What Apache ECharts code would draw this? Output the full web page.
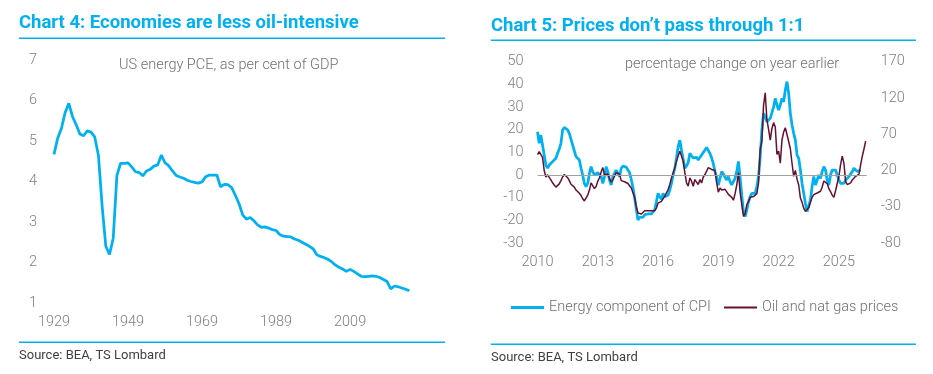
<!DOCTYPE html>
<html><head><meta charset="utf-8">
<script src="https://cdn.jsdelivr.net/npm/echarts@6/dist/echarts.min.js"></script>
<style>html,body{margin:0;padding:0;background:#fff}#c{width:933px;height:374px}</style>
</head><body><div id="c"></div>
<script>
// ---- Chart 4: US energy PCE, % of GDP (annual) ----
const pceStartYear = 1929;
const pceValues = [4.67,5.07,5.31,5.70,5.93,5.60,5.40,5.17,5.13,5.25,5.22,5.10,4.65,3.40,2.40,2.20,2.60,4.15,4.45,4.45,
4.46,4.36,4.24,4.22,4.14,4.26,4.30,4.38,4.41,4.65,4.46,4.39,4.26,4.15,4.11,4.08,4.03,4.00,3.98,3.96,
3.99,4.12,4.16,4.16,4.16,3.87,3.93,3.92,3.85,3.66,3.45,3.17,3.07,3.11,3.03,2.93,2.87,2.88,2.85,2.81,
2.79,2.69,2.65,2.64,2.63,2.58,2.55,2.50,2.45,2.40,2.34,2.19,2.15,2.12,2.08,2.02,1.94,1.88,1.84,1.78,
1.83,1.78,1.72,1.66,1.65,1.66,1.67,1.66,1.63,1.58,1.53,1.35,1.42,1.40,1.37,1.34,1.30];
const pceYTicks = [1,2,3,4,5,6,7];

// ---- Chart 5: monthly % y/y from Jan 2010 ----
const monthlyStart = 2010;
const energyCPI = [19.1,14,17.6,16.9,8.8,4.4,3,4.4,3.7,5.9,
6.5,7.4,9.6,11.5,14,19.9,21,20.5,19.9,18.4,
17.6,13.2,12.5,8.1,7.4,6.6,3,0,-3.7,-5.1,
-3.7,0.7,3.7,1.5,0,0.5,1,1.5,-0.7,-3.7,
-0.7,3.7,1.5,-2.2,-4.4,-0.7,0.7,2.2,0.7,-0.7,
3,4,3.8,3.5,2.2,1,-2,-5.5,-10,-15,
-19.9,-18.7,-19.1,-18.6,-17.5,-16.9,-17.2,-17.4,-17.2,-16.5,
-15.4,-11.8,-8.1,-9.6,-10.7,-8.1,-9.6,-10.3,-8.8,-6.6,
-3.7,0,3,7.5,12.5,15.4,11,7,3,4,
5.5,9.6,8.5,7.5,7.5,7.8,6.6,7.8,8.8,9,
11,12.2,11.8,9.5,7.5,5,1.5,-1,-4.5,-1.5,
1.5,0.5,-1,-2.2,-0.7,-2.9,-4.4,-3.7,-1.5,1.5,
6,-1,-9,-16,-18.4,-15.4,-11.8,-9.6,-8.1,-8.8,
-8.1,-5.1,-0.7,8,19.9,27.2,25.7,23.5,24.3,25,
25.7,30.1,33.8,30.9,28.7,30.9,33.8,32.3,37.5,41.2,
36,27.2,22.1,18.4,15.4,8.8,7.4,2.2,-3.7,-8.1,
-12.5,-16.2,-15.4,-11,-5.1,-0.7,-4.4,-2.2,0,-1.5,
1.5,3.7,2.2,-2.2,-4.4,0,2.2,3,2.2,1.5,
-2.2,-3.7,-2.9,-3.7,-2.2,-1.5,-0.7,0,1.5,3,
3.7,1.5,0.7,2.2];
const oilGas = [42,46,45,38,20,11,14,12,7,3,
0,-3,-2,1.5,6,11,14.5,13.5,10,6,
1,-0.5,-3,-7,-9,-11.5,-14.5,-19,-22,-20.5,
-14,-7,3,1,-5,-2,5,10,18,24,
14,16,15,9,4,7,12,17,19,15,
6,4.5,4.5,5,2,0.6,-4.1,-6.3,-17,-30,
-38.7,-40.9,-40.1,-38.7,-35.4,-34,-35.4,-34,-35.4,-36.4,
-35.4,-31.8,-24.9,-27.1,-22.5,-20.2,-15.6,-11,-6.3,0.6,
9.8,16.7,23.6,32.9,39.8,46.7,44.4,32.9,16.7,3,
-1.7,9.8,5.2,-1.7,7.5,5.2,0.6,7.5,2.8,11,
14.5,19,24,26,21.4,23.6,20,3,-10,-4.1,
-7,-5,-6,-8,-13,-15.6,-17,-21,-12,0,
17,-10,-27,-43.3,-40,-27,-23,-17,-17,-16,
-17,-12,3,50,60,110,127,90,76.8,62,
78,86,80,42,46.7,30,62,73,79,77,
60,50,30,12,20,8,0,-18,-24,-32,
-36.4,-38,-31,-24,-17,-13.2,-15,-11,-13,-8.7,
-3,5.5,7,2,-5,-9,-14,-17,-8,2,
12,28,39.8,30,5,0.6,1,3,7,6,
12,10,15,28,40,50,60.6];
const leftTicks = [-30,-20,-10,0,10,20,30,40,50];
const rightTicks = [-80,-30,20,70,120,170];
const seriesNames = ['Energy component of CPI','Oil and nat gas prices'];

const BLUE = '#00B0F0', MAROON = '#651030', GREY = '#7f7f7f';
const FONT = 'Roboto, "Noto Sans", sans-serif';
const plain = v => String(v);
const lab = {color: GREY, fontSize: 14.5, fontFamily: FONT, fontWeight: 300, formatter: plain};

const pceData = pceValues.map((v,i)=>[pceStartYear+i, v]);
const cpiData = energyCPI.map((v,i)=>[monthlyStart+i/12, v]);
const oilData = oilGas.map((v,i)=>[monthlyStart+i/12, v]);

const chart = echarts.init(document.getElementById('c'), null, {renderer:'canvas'});
const noLine = {axisLine:{show:false}, axisTick:{show:false}, splitLine:{show:false}};
const legTxt = {color:'#707070', fontSize:14.5, fontFamily:FONT, fontWeight:300};
chart.setOption({
  animation:false,
  backgroundColor:'#fff',
  grid:[
    {left:54, top:60, width:355.3, height:243},
    {left:537.5, top:61.7, width:329.2, height:181.3}
  ],
  xAxis:[
    Object.assign({type:'value', gridIndex:0, min:1929, max:2025, interval:20,
      axisLabel:Object.assign({margin:12, showMaxLabel:false}, lab)}, noLine),
    Object.assign({type:'value', gridIndex:1, min:2010, max:2010+196.6/12, interval:3,
      axisLabel:Object.assign({margin:12, showMaxLabel:false}, lab)}, noLine)
  ],
  yAxis:[
    Object.assign({type:'value', gridIndex:0, min:pceYTicks[0], max:pceYTicks[pceYTicks.length-1], interval:1,
      axisLabel:Object.assign({margin:17}, lab)}, noLine),
    Object.assign({type:'value', gridIndex:1, min:leftTicks[0], max:leftTicks[leftTicks.length-1], interval:10,
      axisLabel:Object.assign({margin:14}, lab)}, noLine),
    Object.assign({type:'value', gridIndex:1, position:'right', min:rightTicks[0], max:rightTicks[rightTicks.length-1], interval:50,
      axisLabel:Object.assign({margin:14}, lab)}, noLine)
  ],
  legend:[
    {data:[seriesNames[0]], left:511, top:300, padding:0, icon:'rect', itemWidth:33, itemHeight:3,
      itemStyle:{color:BLUE}, textStyle:legTxt},
    {data:[seriesNames[1]], left:724, top:300, padding:0, icon:'rect', itemWidth:33, itemHeight:2,
      itemStyle:{color:MAROON}, textStyle:legTxt}
  ],
  series:[
    {type:'line', name:'pce', xAxisIndex:0, yAxisIndex:0, data:pceData, symbol:'none',
      lineStyle:{color:BLUE, width:2.75}, itemStyle:{color:BLUE}},
    {type:'line', name:seriesNames[0], xAxisIndex:1, yAxisIndex:1, data:cpiData, symbol:'none',
      lineStyle:{color:BLUE, width:2.75}, itemStyle:{color:BLUE},
      markLine:{silent:true, symbol:'none', label:{show:false}, animation:false,
        lineStyle:{color:'#a0a0a0', width:1, type:'solid'}, data:[{yAxis:0}]}},
    {type:'line', name:seriesNames[1], xAxisIndex:1, yAxisIndex:2, data:oilData, symbol:'none',
      lineStyle:{color:MAROON, width:1.5}, itemStyle:{color:MAROON}}
  ],
  graphic:[
    {type:'text', left:19, top:14, style:{text:'Chart 4: Economies are less oil-intensive', fill:BLUE, fontSize:18.5, fontWeight:'bold', fontFamily:FONT}},
    {type:'rect', shape:{x:19, y:37.5, width:426, height:1.5}, style:{fill:BLUE}},
    {type:'text', left:491, top:16.5, style:{text:'Chart 5: Prices don\u2019t pass through 1:1', fill:BLUE, fontSize:18.5, fontWeight:'bold', fontFamily:FONT}},
    {type:'rect', shape:{x:491, y:39.5, width:425, height:1.5}, style:{fill:BLUE}},
    {type:'text', left:119, top:57.5, style:{text:'US energy PCE, as per cent of GDP', fill:'#707070', fontSize:14.5, fontWeight:300, fontFamily:FONT}},
    {type:'text', left:625, top:56.5, style:{text:'percentage change on year earlier', fill:'#707070', fontSize:14.5, fontWeight:300, fontFamily:FONT}},
    {type:'rect', shape:{x:19, y:341.5, width:426, height:1.5}, style:{fill:BLUE}},
    {type:'rect', shape:{x:491, y:343.5, width:425, height:1.5}, style:{fill:BLUE}},
    {type:'text', left:19, top:349.5, style:{text:'Source: BEA, TS Lombard', fill:'#404040', fontSize:13, fontFamily:FONT}},
    {type:'text', left:491, top:351.5, style:{text:'Source: BEA, TS Lombard', fill:'#404040', fontSize:13, fontFamily:FONT}}
  ]
});
</script></body></html>
